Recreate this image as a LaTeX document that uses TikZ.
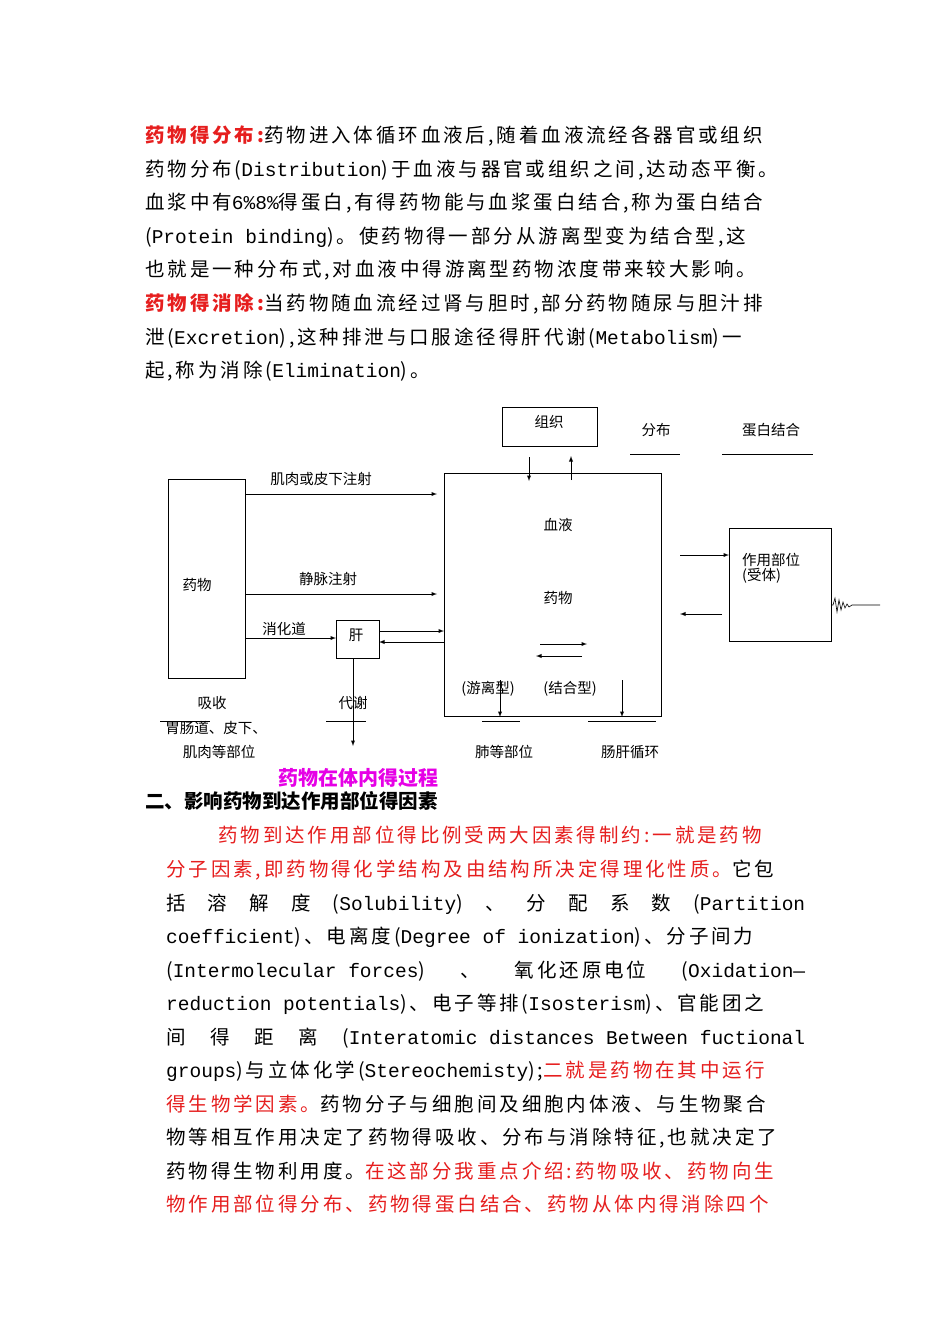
\documentclass[tikz,border=0pt]{standalone}
\usepackage{fontspec}
\setmainfont{Noto Sans CJK SC}
\newfontfamily\wide{Noto Sans CJK SC}[LetterSpace=15]
\setmonofont{Liberation Mono}
\newcommand{\m}[1]{{\ttfamily #1}}
\newcommand{\fa}[1]{\makebox[660pt][s]{#1}}
\newcommand{\fb}[1]{\makebox[639pt][s]{#1}}
\definecolor{rd}{RGB}{230,30,30}
\definecolor{mg}{RGB}{230,0,230}
\begin{document}
\begin{tikzpicture}[x=1pt,y=-1pt,
  tl/.style={anchor=base west,inner sep=0,font=\fontsize{19.5}{20}\selectfont\wide},
  dl/.style={inner sep=0,font=\fontsize{14.5}{15}\selectfont},
  bx/.style={draw,line width=1pt},
  ar/.style={-latex,line width=0.9pt},
  ln/.style={line width=0.9pt}]
\useasboundingbox[fill=white] (0,0) rectangle (950,1344);
% top paragraph
\node[tl] (p1) at (145,142) {\fa{\textcolor{rd}{\bfseries 药物得分布:}药物进入体循环血液后,随着血液流经各器官或组织}};
\node[tl] (p2) at (145,176) {\fa{药物分布(\m{Distribution})于血液与器官或组织之间,达动态平衡。}};
\node[tl] (p3) at (145,209) {\fa{血浆中有\m{6\%8\%}得蛋白,有得药物能与血浆蛋白结合,称为蛋白结合}};
\node[tl] (p4) at (145,243) {\fa{(\m{Protein binding})。使药物得一部分从游离型变为结合型,这}};
\node[tl] (p5) at (145,276) {也就是一种分布式,对血液中得游离型药物浓度带来较大影响。};
\node[tl] (p6) at (145,310) {\fa{\textcolor{rd}{\bfseries 药物得消除:}当药物随血流经过肾与胆时,部分药物随尿与胆汁排}};
\node[tl] (p7) at (145,344) {\fa{泄(\m{Excretion}),这种排泄与口服途径得肝代谢(\m{Metabolism})一}};
\node[tl] (p8) at (145,377) {起,称为消除(\m{Elimination})。};
% diagram boxes
\draw[bx] (168,479) rectangle (245,678); \node[dl] (yw) at (197,585) {药物};
\draw[bx] (502,407) rectangle (597,446); \node[dl] (zz) at (549,422) {组织};
\draw[bx] (444,473) rectangle (661,716);
\draw[bx] (729,528) rectangle (831,641);
\draw[bx] (336,620) rectangle (379,658); \node[dl] (gan) at (356,635) {肝};
\coordinate (a1) at (245,494); \coordinate (a2) at (437,494);
\draw[ar] (a1) -- (a2);
\coordinate (b1) at (245,594); \coordinate (b2) at (437,594);
\draw[ar] (b1) -- (b2);
\coordinate (c1) at (245,638); \coordinate (c2) at (336,638);
\draw[ar] (c1) -- (c2);
\coordinate (d1) at (379,631); \coordinate (d2) at (444,631);
\draw[ar] (d1) -- (d2);
\coordinate (e1) at (444,642); \coordinate (e2) at (379,642);
\draw[ar] (e1) -- (e2);
\coordinate (f1) at (529,457); \coordinate (f2) at (529,481);
\draw[ar] (f1) -- (f2);
\coordinate (g1) at (571,480); \coordinate (g2) at (571,456);
\draw[ar] (g1) -- (g2);
\coordinate (h1) at (680,555); \coordinate (h2) at (729,555);
\draw[ar] (h1) -- (h2);
\coordinate (i1) at (722,614); \coordinate (i2) at (680,614);
\draw[ar] (i1) -- (i2);
\coordinate (j1) at (540,644); \coordinate (j2) at (587,644);
\draw[ar] (j1) -- (j2);
\coordinate (k1) at (582,656); \coordinate (k2) at (536,656);
\draw[ar] (k1) -- (k2);
\coordinate (l1) at (500,680); \coordinate (l2) at (500,717);
\draw[ar] (l1) -- (l2);
\coordinate (m1) at (622,680); \coordinate (m2) at (622,717);
\draw[ar] (m1) -- (m2);
\coordinate (n1) at (353,658); \coordinate (n2) at (353,746);
\draw[ar] (n1) -- (n2);
\draw[ln] (630,454) -- (680,454);
\draw[ln] (722,454) -- (813,454);
\draw[ln] (482,721) -- (520,721);
\draw[ln] (588,721) -- (656,721);
\draw[ln] (326,721) -- (366,721);
\draw[ln] (160,721) -- (210,721);
\draw[line width=0.6pt] (831,605) -- (833,605) -- (835,598) -- (837,612) -- (839,600) -- (841,610) -- (843,602) -- (845,608) -- (847,604) -- (849,607) -- (852,605) -- (880,605);
% labels
\node[dl] (l_fb) at (656,430) {分布};
\node[dl] (l_db) at (771,430) {蛋白结合};
\node[dl] (l_jr) at (321,479) {肌肉或皮下注射};
\node[dl] (l_xy) at (558,525) {血液};
\node[dl] (l_yw2) at (558,598) {药物};
\node[dl] (l_jm) at (328,579) {静脉注射};
\node[dl] (l_xh) at (284,629) {消化道};
\node[dl] (l_yl) at (488,689) {(游离型)};
\node[dl] (l_jh) at (570,689) {(结合型)};
\node[dl,align=left,anchor=north west] (l_zy) at (742,553) {作用部位\\(受体)};
\node[dl] (l_xs) at (212,703) {吸收};
\node[dl] (l_dx) at (353,703) {代谢};
\node[dl] (l_wc) at (216,728) {胃肠道、皮下、};
\node[dl] (l_jr2) at (219,752) {肌肉等部位};
\node[dl] (l_fd) at (504,752) {肺等部位};
\node[dl] (l_cg) at (630,752) {肠肝循环};
\node[inner sep=0,font=\fontsize{20}{21}\selectfont\bfseries,text=mg] (title) at (358,778) {药物在体内得过程};
\node[tl,font=\fontsize{19.5}{20}\selectfont\bfseries] (h2) at (145,808) {二、影响药物到达作用部位得因素};
% bottom paragraph
\node[tl,text=rd] (q1) at (218,842) {\makebox[587pt][s]{药物到达作用部位得比例受两大因素得制约:一就是药物}};
\node[tl,text=rd] (q2) at (166,876) {\fb{分子因素,即药物得化学结构及由结构所决定得理化性质。\textcolor{black}{它包}}};
\node[tl] (q3) at (166,910) {\fb{括 溶 解 度 (\m{Solubility}) 、 分 配 系 数 (\m{Partition}}};
\node[tl] (q4) at (166,943) {\fb{\m{coefficient})、电离度(\m{Degree of ionization})、分子间力}};
\node[tl] (q5) at (166,977) {\fb{(\m{Intermolecular forces}) 、 氧化还原电位 (\m{Oxidation—}}};
\node[tl] (q6) at (166,1010) {\fb{\m{reduction potentials})、电子等排(\m{Isosterism})、官能团之}};
\node[tl] (q7) at (166,1044) {\fb{间 得 距 离 (\m{Interatomic distances Between fuctional}}};
\node[tl] (q8) at (166,1077) {\fb{\m{groups})与立体化学(\m{Stereochemisty});\textcolor{rd}{二就是药物在其中运行}}};
\node[tl] (q9) at (166,1111) {\fb{\textcolor{rd}{得生物学因素。}药物分子与细胞间及细胞内体液、与生物聚合}};
\node[tl] (q10) at (166,1144) {\fb{物等相互作用决定了药物得吸收、分布与消除特征,也就决定了}};
\node[tl] (q11) at (166,1178) {\fb{药物得生物利用度。\textcolor{rd}{在这部分我重点介绍:药物吸收、药物向生}}};
\node[tl,text=rd] (q12) at (166,1211) {\fb{物作用部位得分布、药物得蛋白结合、药物从体内得消除四个}};
\end{tikzpicture}
\end{document}
